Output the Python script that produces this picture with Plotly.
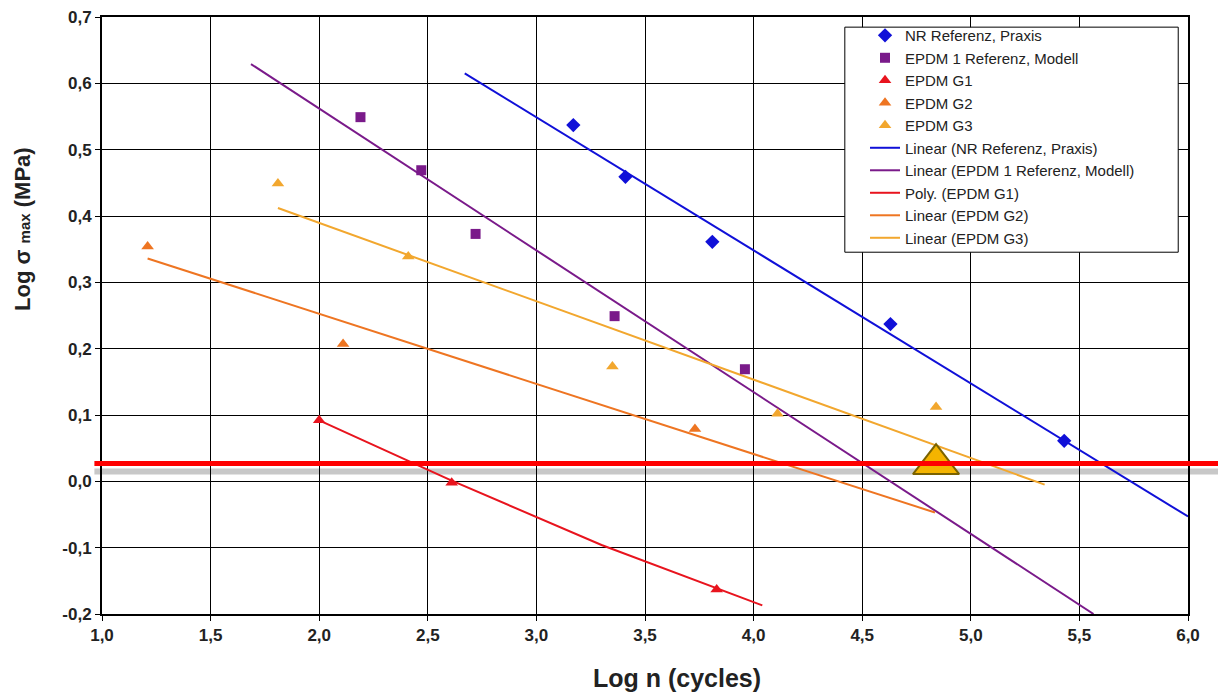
import plotly.graph_objects as go

# ---- data ----
nr_x = [3.17, 3.41, 3.81, 4.63, 5.43]
nr_y = [0.537, 0.459, 0.361, 0.237, 0.061]
epdm1_x = [2.19, 2.47, 2.72, 3.36, 3.96]
epdm1_y = [0.549, 0.469, 0.373, 0.249, 0.169]
g1_x = [2.00, 2.61, 3.83]
g1_y = [0.092, -0.002, -0.163]
g2_x = [1.21, 2.11, 3.73]
g2_y = [0.354, 0.207, 0.079]
g3_x = [1.81, 2.41, 3.35, 4.11, 4.84]
g3_y = [0.449, 0.339, 0.173, 0.102, 0.112]

# trend lines (end points as drawn)
nr_fit_x = [2.67, 6.0]
nr_fit_y = [0.615, -0.053]
epdm1_fit_x = [1.686, 5.565]
epdm1_fit_y = [0.629, -0.200]
g1_fit_x = [2.00, 2.61, 3.30, 4.04]
g1_fit_y = [0.092, 0.001, -0.096, -0.187]
g2_fit_x = [1.21, 4.835]
g2_fit_y = [0.336, -0.047]
g3_fit_x = [1.81, 5.34]
g3_fit_y = [0.412, -0.005]

# highlighted point and reference levels
big_x = [4.84]
big_y = [0.026]
red_level = 0.027
gray_level = 0.015

x_ticks = [1.0, 1.5, 2.0, 2.5, 3.0, 3.5, 4.0, 4.5, 5.0, 5.5, 6.0]
x_tick_text = ["1,0", "1,5", "2,0", "2,5", "3,0", "3,5", "4,0", "4,5", "5,0", "5,5", "6,0"]
y_ticks = [-0.2, -0.1, 0.0, 0.1, 0.2, 0.3, 0.4, 0.5, 0.6, 0.7]
y_tick_text = ["-0,2", "-0,1", "0,0", "0,1", "0,2", "0,3", "0,4", "0,5", "0,6", "0,7"]
y_min, y_max = -0.2, 0.7
x_min, x_max = 1.0, 6.0

C_NR = "#1010d8"
C_E1 = "#7a1a8a"
C_G1 = "#e8141e"
C_G2 = "#ee7522"
C_G3 = "#f2a72e"

FONT = "Liberation Sans, Arial, sans-serif"

fig = go.Figure()

def mk(x, y, name, color, symbol, size, grp):
    fig.add_trace(go.Scatter(x=x, y=y, mode="markers", name=name, legendgroup=grp,
                             marker=dict(color=color, symbol=symbol, size=size, line=dict(width=0))))

def ln(x, y, name, color, grp):
    fig.add_trace(go.Scatter(x=x, y=y, mode="lines", name=name, legendgroup=grp,
                             line=dict(color=color, width=2)))

ln(nr_fit_x, nr_fit_y, "Linear (NR Referenz, Praxis)", C_NR, "g6")
ln(epdm1_fit_x, epdm1_fit_y, "Linear (EPDM 1 Referenz, Modell)", C_E1, "g7")
ln(g1_fit_x, g1_fit_y, "Poly. (EPDM G1)", C_G1, "g8")
ln(g2_fit_x, g2_fit_y, "Linear (EPDM G2)", C_G2, "g9")
ln(g3_fit_x, g3_fit_y, "Linear (EPDM G3)", C_G3, "g10")
mk(nr_x, nr_y, "NR Referenz, Praxis", C_NR, "diamond", 11, "g1")
mk(epdm1_x, epdm1_y, "EPDM 1 Referenz, Modell", C_E1, "square", 10, "g2")
mk(g1_x, g1_y, "EPDM G1", C_G1, "triangle-up", 11, "g3")
mk(g2_x, g2_y, "EPDM G2", C_G2, "triangle-up", 11, "g4")
mk(g3_x, g3_y, "EPDM G3", C_G3, "triangle-up", 11, "g5")

for i, tr in enumerate(fig.data):
    tr.legendrank = (i + 6) if i < 5 else (i - 4)

fig.add_trace(go.Scatter(x=big_x, y=big_y, mode="markers", showlegend=False, cliponaxis=False,
                         marker=dict(symbol="triangle-up", size=40, color="#f4b400",
                                     line=dict(color="#7a6200", width=2))))

def ypaper(v):
    return (v - y_min) / (y_max - y_min)

fig.add_shape(type="line", xref="paper", yref="paper", x0=-0.007, x1=1.03,
              y0=ypaper(gray_level), y1=ypaper(gray_level),
              line=dict(color="#c8c8c8", width=6), layer="below")
fig.add_shape(type="line", xref="paper", yref="paper", x0=-0.007, x1=1.03,
              y0=ypaper(red_level), y1=ypaper(red_level),
              line=dict(color="#ff0000", width=5), layer="above")
# legend frame
fig.add_shape(type="rect", xref="paper", yref="paper", x0=0.684, x1=0.991, y0=0.606, y1=0.983,
              fillcolor="white", line=dict(color="#000000", width=1), layer="above")

tick_font = dict(family=FONT, size=17, color="#222222", weight="bold")
axis_common = dict(showgrid=True, gridcolor="#000000", gridwidth=1, showline=True, linecolor="#000000",
                   linewidth=2, mirror=True, ticks="outside", ticklen=5, tickcolor="#000000",
                   tickfont=tick_font, zeroline=False, automargin=False, tickmode="array")

fig.update_layout(
    width=1218, height=693,
    margin=dict(l=102, r=30, t=17, b=79, autoexpand=False),
    paper_bgcolor="white", plot_bgcolor="white",
    xaxis=dict(range=[x_min, x_max], tickvals=x_ticks, ticktext=x_tick_text, **axis_common),
    yaxis=dict(range=[y_min, y_max + 1e-6], tickvals=y_ticks, ticktext=y_tick_text, **axis_common),
    legend=dict(x=0.7026, y=0.9966, xanchor="left", yanchor="top", bgcolor="rgba(0,0,0,0)",
                borderwidth=0, traceorder="grouped", tracegroupgap=0,
                font=dict(family=FONT, size=15, color="#222222")),
    showlegend=True,
    annotations=[
        dict(text="Log σ <span style='font-size:15px'>max</span> (MPa)", textangle=-90,
             xref="paper", yref="paper", x=-0.0727, y=0.645, xanchor="center", yanchor="middle",
             showarrow=False, font=dict(family=FONT, size=22, color="#222222", weight="bold")),
        dict(text="Log n (cycles)", xref="paper", yref="paper", x=0.5295, y=-0.107,
             xanchor="center", yanchor="middle", showarrow=False,
             font=dict(family=FONT, size=25, color="#222222", weight="bold")),
    ],
)

fig.write_html("out.html", config={"displayModeBar": False},
               post_script="document.body.style.margin='0';document.body.style.overflow='hidden';")
